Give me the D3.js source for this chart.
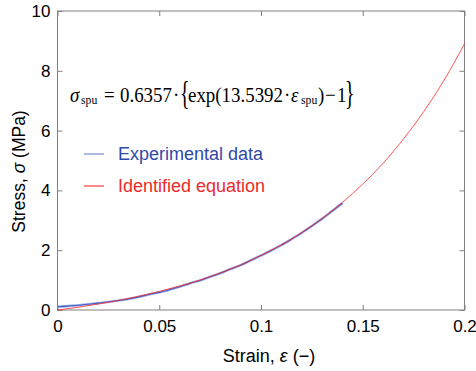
<!DOCTYPE html>
<html>
<head>
<meta charset="utf-8">
<script src="https://cdn.jsdelivr.net/npm/d3@7"></script>
<style>
  body { margin: 0; background: #fff; }
  svg { display: block; }
</style>
</head>
<body>
<div id="chart"></div>
<script>
// values
const expStrain = [0, 0.005, 0.01, 0.015, 0.02, 0.025, 0.03, 0.035, 0.04, 0.045, 0.05, 0.055, 0.06,
  0.065, 0.07, 0.075, 0.08, 0.085, 0.09, 0.095, 0.1, 0.105, 0.11, 0.115, 0.12, 0.125, 0.13, 0.135, 0.14];
const expStress = [0.11, 0.13, 0.16, 0.19, 0.23, 0.27, 0.32, 0.37, 0.44, 0.52, 0.59, 0.68, 0.78,
  0.89, 0.99, 1.11, 1.23, 1.37, 1.50, 1.66, 1.82, 1.99, 2.17, 2.37, 2.58, 2.81, 3.05, 3.31, 3.57];

const fitStrain = [0, 0.01, 0.02, 0.03, 0.04, 0.05, 0.06, 0.07, 0.08, 0.09, 0.1,
  0.11, 0.12, 0.13, 0.14, 0.15, 0.16, 0.17, 0.18, 0.19, 0.2];
const fitStress = [0, 0.09, 0.20, 0.32, 0.46, 0.62, 0.80, 1.00, 1.24, 1.51, 1.83,
  2.18, 2.59, 3.06, 3.60, 4.21, 4.91, 5.72, 6.64, 7.69, 8.90];

const xTicks = [0, 0.05, 0.1, 0.15, 0.2];
const yTicks = [0, 2, 4, 6, 8, 10];
const legendLabels = ['Experimental data', 'Identified equation'];

const W = 476, H = 371;
const margin = {top: 11, right: 11.5, bottom: 61, left: 57.5};
const width = W - margin.left - margin.right;
const height = H - margin.top - margin.bottom;

const blue = '#3f5cc4', red = '#ff2a2a';
const sans = 'Liberation Sans, Arial, sans-serif';
const serif = 'Liberation Serif, Times New Roman, serif';

const svg = d3.select('#chart').append('svg')
  .attr('width', W)
  .attr('height', H);

const g = svg.append('g')
  .attr('transform', 'translate(' + margin.left + ',' + margin.top + ')');

const x = d3.scaleLinear().domain([0, 0.2]).range([0, width]);
const y = d3.scaleLinear().domain([0, 10]).range([height, 0]);

// box
g.append('rect')
  .attr('width', width)
  .attr('height', height)
  .attr('fill', 'none')
  .attr('stroke', '#808080')
  .attr('stroke-width', 1);

// inward ticks on all four sides (matlab style)
const fmt = d => String(d);
const xAxis = d3.axisBottom(x).tickValues(xTicks).tickSize(-5).tickPadding(10).tickFormat(fmt);
const yAxis = d3.axisLeft(y).tickValues(yTicks).tickSize(-5).tickPadding(7).tickFormat(fmt);

g.append('g')
  .attr('transform', 'translate(0,' + height + ')')
  .call(xAxis);
g.append('g')
  .call(yAxis);
g.append('g')
  .call(d3.axisTop(x).tickValues(xTicks).tickSize(-5).tickFormat(''));
g.append('g')
  .attr('transform', 'translate(' + width + ',0)')
  .call(d3.axisRight(y).tickValues(yTicks).tickSize(-5).tickFormat(''));

g.selectAll('.domain').remove();
g.selectAll('.tick line').attr('stroke', '#808080');
g.selectAll('.tick text')
  .attr('fill', '#000')
  .style('font-family', sans)
  .style('font-size', '17px');

// curves
const line = d3.line()
  .x(d => x(d[0]))
  .y(d => y(d[1]))
  .curve(d3.curveMonotoneX);

g.append('path')
  .datum(d3.zip(expStrain, expStress))
  .attr('fill', 'none')
  .attr('stroke', '#a9b8e8')
  .attr('stroke-width', 2.6)
  .attr('d', line);
g.append('path')
  .datum(d3.zip(expStrain, expStress))
  .attr('fill', 'none')
  .attr('stroke', blue)
  .attr('stroke-width', 1.1)
  .attr('d', line);

g.append('path')
  .datum(d3.zip(fitStrain, fitStress))
  .attr('fill', 'none')
  .attr('stroke', red)
  .attr('stroke-width', 0.8)
  .attr('d', line);

// legend
const legend = svg.append('g');
legendLabels.forEach((lab, i) => {
  const ly = 154 + i * 32;
  legend.append('line')
    .attr('x1', 84).attr('x2', 104)
    .attr('y1', ly).attr('y2', ly)
    .attr('stroke', i === 0 ? '#6a80d0' : red)
    .attr('stroke-width', 1.1);
  legend.append('text')
    .attr('x', 118).attr('y', ly + 6)
    .attr('fill', i === 0 ? '#3049a8' : '#ee2a2a')
    .style('font-family', sans)
    .style('font-size', '18px')
    .text(lab);
});

// equation, pieces placed one by one (condensed times)
const eqBase = 101.5;
const eqParts = [
  {x: 70, t: 'σ', size: 21, it: true, dy: 0},
  {x: 81, t: 'spu', size: 13, it: false, dy: 2},
  {x: 104, t: '=', size: 21, it: false, dy: 0},
  {x: 120, t: '0.6357', size: 21, it: false, dy: 0},
  {x: 173, t: '·', size: 21, it: false, dy: 0},
  {x: 180, t: '{', size: 33, it: false, dy: 2, sx: 0.6},
  {x: 188, t: 'exp(13.5392', size: 21, it: false, dy: 0},
  {x: 284, t: '·', size: 21, it: false, dy: 0},
  {x: 291, t: 'ε', size: 21, it: true, dy: 0},
  {x: 301, t: 'spu', size: 13, it: false, dy: 2},
  {x: 318, t: ')', size: 21, it: false, dy: 0},
  {x: 325, t: '−', size: 21, it: false, dy: 0},
  {x: 337, t: '1', size: 21, it: false, dy: 0},
  {x: 345, t: '}', size: 33, it: false, dy: 2, sx: 0.6}
];
const eq = svg.append('g');
eqParts.forEach(p => {
  eq.append('text')
    .attr('transform', 'translate(' + p.x + ',' + (eqBase + p.dy) + ') scale(' + (p.sx || 0.9) + ',1)')
    .attr('fill', '#000')
    .attr('font-style', p.it ? 'italic' : 'normal')
    .style('font-family', serif)
    .style('font-size', p.size + 'px')
    .text(p.t);
});

// axis titles
svg.append('text')
  .attr('x', 269)
  .attr('y', 362)
  .attr('text-anchor', 'middle')
  .style('font-family', sans)
  .style('font-size', '18px')
  .html('Strain,  <tspan font-style="italic">ε</tspan> (−)');

svg.append('text')
  .attr('transform', 'translate(25,171.5) rotate(-90)')
  .attr('text-anchor', 'middle')
  .style('font-family', sans)
  .style('font-size', '17.5px')
  .html('Stress, <tspan font-style="italic">σ</tspan> (MPa)');
</script>
</body>
</html>
